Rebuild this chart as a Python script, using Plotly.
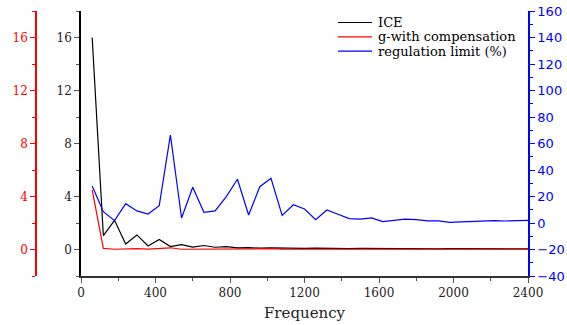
import plotly.graph_objects as go

# Harmonic frequencies (Hz)
frequency = [60, 120, 180, 240, 300, 360, 420, 480, 540, 600,
             660, 720, 780, 840, 900, 960, 1020, 1080, 1140, 1200,
             1260, 1320, 1380, 1440, 1500, 1560, 1620, 1680, 1740, 1800,
             1860, 1920, 1980, 2040, 2100, 2160, 2220, 2280, 2340, 2400]

# Harmonic current amplitudes (left axis)
ice = [16.0, 1.05, 2.2, 0.42, 1.1, 0.27, 0.75, 0.22, 0.37, 0.18,
       0.30, 0.17, 0.22, 0.12, 0.14, 0.10, 0.12, 0.10, 0.11, 0.09,
       0.10, 0.08, 0.09, 0.07, 0.08, 0.07, 0.07, 0.06, 0.07, 0.06,
       0.06, 0.05, 0.06, 0.05, 0.05, 0.05, 0.04, 0.05, 0.04, 0.04]
g_comp = [4.5, 0.08, 0.02, 0.04, 0.07, 0.03, 0.10, 0.13, 0.02, 0.03,
          0.02, 0.02, 0.03, 0.05, 0.03, 0.04, 0.06, 0.03, 0.02, 0.02,
          0.02, 0.02, 0.02, 0.02, 0.02, 0.02, 0.02, 0.02, 0.02, 0.02,
          0.02, 0.02, 0.02, 0.02, 0.02, 0.02, 0.02, 0.02, 0.02, 0.02]

# Regulation limit in percent (right axis)
reg_limit = [28.0, 8.5, 1.8, 14.6, 9.1, 6.8, 13.1, 66.4, 3.8, 27.0,
             8.1, 9.1, 19.9, 33.0, 6.0, 27.4, 33.7, 5.8, 13.8, 10.6,
             2.5, 9.8, 6.6, 3.3, 3.0, 3.8, 1.0, 2.0, 3.0, 2.6,
             1.6, 1.6, 0.5, 0.9, 1.3, 1.5, 1.8, 1.5, 1.6, 2.0]

left_ticks = [0, 4, 8, 12, 16]
right_ticks = [-40, -20, 0, 20, 40, 60, 80, 100, 120, 140, 160]
x_ticks = [0, 400, 800, 1200, 1600, 2000, 2400]

series = [
    ("ICE", ice, "black", "y"),
    ("g-with compensation", g_comp, "#ff0000", "y"),
    ("regulation limit (%)", reg_limit, "#0000ff", "y2"),
]

serif = "DejaVu Serif"
sans = "DejaVu Sans"

W, H = 567, 325
ML, MR, MT, MB = 36, 39, 11, 49
PW, PH = W - ML - MR, H - MT - MB


def px_x(p):
    return (p - ML) / PW


def px_y(p):
    return 1 - (p - MT) / PH


fig = go.Figure()
for name, vals, color, ax in series:
    fig.add_trace(go.Scatter(x=frequency, y=vals, name=name, mode="lines",
                             line=dict(color=color, width=1.2), yaxis=ax,
                             showlegend=False))

# Invisible trace so the outer red axis is drawn
fig.add_trace(go.Scatter(x=[None], y=[None], yaxis="y3", showlegend=False, hoverinfo="skip"))

# Compact legend: short line sample plus label for each series
legend_rows = [22.5, 36.8, 51.1]
for (name, _, color, _), row in zip(series, legend_rows):
    fig.add_shape(type="line", xref="paper", yref="paper",
                  x0=px_x(338), x1=px_x(372), y0=px_y(row), y1=px_y(row),
                  line=dict(color=color, width=1.2))
    fig.add_annotation(xref="paper", yref="paper", x=px_x(376), y=px_y(row),
                       xanchor="left", yanchor="middle", text=name, showarrow=False,
                       font=dict(family=serif, size=13, color="black"))

fig.update_layout(
    width=W, height=H,
    margin=dict(l=ML, r=MR, t=MT, b=MB, autoexpand=False),
    plot_bgcolor="white", paper_bgcolor="white",
    showlegend=False,
    xaxis=dict(domain=[(81 - ML) / PW, 1], range=[0, 2400], automargin=False,
               tickvals=x_ticks, ticks="outside", ticklen=5, tickcolor="#555",
               showline=True, linecolor="#333", linewidth=1.5,
               showgrid=False, zeroline=False,
               minor=dict(dtick=200, ticks="outside", ticklen=3, tickcolor="#555", showgrid=False),
               tickfont=dict(family=serif, size=12, color="#222"),
               title=dict(text="Frequency", font=dict(family=serif, size=15, color="#222"),
                          standoff=8)),
    yaxis=dict(range=[-2, 18], tickvals=left_ticks, ticks="outside", ticklen=5, automargin=False,
               tickcolor="#555", showline=True, linecolor="black", linewidth=1.5,
               showgrid=False, zeroline=False,
               minor=dict(dtick=2, ticks="outside", ticklen=3, tickcolor="#555", showgrid=False),
               tickfont=dict(family=serif, size=12, color="#222")),
    yaxis3=dict(range=[-2, 18], tickvals=left_ticks, ticks="outside", ticklen=5, automargin=False,
                tickcolor="#ff0000", showline=True, linecolor="#ff0000", linewidth=1.5,
                overlaying="y", side="left", anchor="free", position=0,
                showgrid=False, zeroline=False,
                minor=dict(dtick=2, ticks="outside", ticklen=3, tickcolor="#ff0000", showgrid=False),
                tickfont=dict(family=serif, size=12, color="#ff0000")),
    yaxis2=dict(range=[-40, 160], tickvals=right_ticks, ticks="outside", ticklen=5, automargin=False,
                tickcolor="#0000ff", showline=True, linecolor="#0000ff", linewidth=1.5,
                overlaying="y", side="right", anchor="x",
                showgrid=False, zeroline=False,
                minor=dict(dtick=10, ticks="outside", ticklen=3, tickcolor="#0000ff", showgrid=False),
                tickfont=dict(family=sans, size=13, color="#0000ff")),
)

fig.write_html("out.html")
